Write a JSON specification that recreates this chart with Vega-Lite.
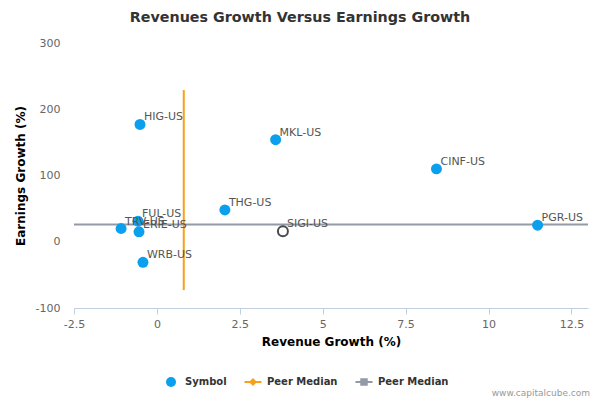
{
  "$schema": "https://vega.github.io/schema/vega-lite/v6.json",
  "autosize": {"type": "none"},
  "width": 514,
  "height": 265,
  "padding": {"left": 74, "top": 43, "right": 12, "bottom": 92},
  "background": "white",
  "title": {
    "text": "Revenues Growth Versus Earnings Growth",
    "fontSize": 14.3,
    "font": "DejaVu Sans",
    "fontWeight": "bold",
    "color": "#333333",
    "anchor": "middle",
    "dx": -31,
    "offset": 12
  },
  "config": {
    "view": {"stroke": null},
    "font": "DejaVu Sans"
  },
  "datasets": {
    "peers": [
      {"symbol": "HIG-US", "rev": -0.51, "earn": 177, "series": "Symbol"},
      {"symbol": "MKL-US", "rev": 3.58, "earn": 154, "series": "Symbol"},
      {"symbol": "CINF-US", "rev": 8.43, "earn": 110, "series": "Symbol"},
      {"symbol": "THG-US", "rev": 2.05, "earn": 48, "series": "Symbol"},
      {"symbol": "PGR-US", "rev": 11.48, "earn": 25, "series": "Symbol"},
      {"symbol": "FUL-US", "rev": -0.57, "earn": 31, "series": "Symbol"},
      {"symbol": "TRV-US", "rev": -1.08, "earn": 20, "series": "Symbol"},
      {"symbol": "ERIE-US", "rev": -0.54, "earn": 15, "series": "Symbol"},
      {"symbol": "WRB-US", "rev": -0.42, "earn": -31, "series": "Symbol"}
    ],
    "self": [
      {"symbol": "SIGI-US", "rev": 3.8, "earn": 16}
    ],
    "revMedian": [
      {"rev": 0.81, "earnLow": -73, "earnHigh": 229}
    ],
    "earnMedian": [
      {"earn": 26, "revLow": -2.5, "revHigh": 13}
    ],
    "credit": [
      {"text": "www.capitalcube.com", "rev": 13, "earn": -100}
    ]
  },
  "layer": [
    {
      "data": {"name": "earnMedian"},
      "mark": {"type": "rule", "color": "#9499a6", "strokeWidth": 2},
      "encoding": {
        "y": {"field": "earn", "type": "quantitative"},
        "x": {"field": "revLow", "type": "quantitative"},
        "x2": {"field": "revHigh"}
      }
    },
    {
      "data": {"name": "revMedian"},
      "mark": {"type": "rule", "color": "#f7a11a", "strokeWidth": 2},
      "encoding": {
        "x": {"field": "rev", "type": "quantitative"},
        "y": {"field": "earnLow", "type": "quantitative"},
        "y2": {"field": "earnHigh"}
      }
    },
    {
      "data": {"name": "peers"},
      "mark": {"type": "point", "filled": true, "opacity": 1, "size": 120},
      "encoding": {
        "x": {
          "field": "rev",
          "type": "quantitative",
          "scale": {"domain": [-2.5, 13], "nice": false, "zero": false},
          "axis": {
            "title": "Revenue Growth (%)",
            "values": [-2.5, 0, 2.5, 5, 7.5, 10, 12.5],
            "labelExpr": "toString(datum.value)",
            "grid": false,
            "domainColor": "#c0d0e0",
            "tickColor": "#c0d0e0",
            "tickSize": 6,
            "labelColor": "#666666",
            "labelFontSize": 11,
            "labelPadding": 4,
            "labelFlush": false,
            "titleFontSize": 12,
            "titleFontWeight": "bold",
            "titleColor": "#000000",
            "titlePadding": 7
          }
        },
        "y": {
          "field": "earn",
          "type": "quantitative",
          "scale": {"domain": [-100, 300], "nice": false, "zero": false},
          "axis": {
            "title": "Earnings Growth (%)",
            "values": [-100, 0, 100, 200, 300],
            "labelExpr": "toString(datum.value)",
            "grid": false,
            "domain": false,
            "ticks": false,
            "labelColor": "#666666",
            "labelFontSize": 11,
            "labelPadding": 14,
            "titleFontSize": 12,
            "titleFontWeight": "bold",
            "titleColor": "#000000",
            "titlePadding": 8
          }
        },
        "color": {
          "field": "series",
          "type": "nominal",
          "scale": {
            "domain": ["Symbol", "Peer Median", "Peer Median "],
            "range": ["#0ba0ee", "#f7a11a", "#9499a6"]
          },
          "legend": {
            "title": null,
            "orient": "none",
            "direction": "horizontal",
            "legendX": 91,
            "legendY": 333,
            "symbolSize": 100,
            "symbolOpacity": 1,
            "labelFontSize": 10,
            "labelFontWeight": "bold",
            "labelColor": "#333333",
            "labelOffset": 8,
            "columnPadding": 17
          }
        },
        "shape": {
          "field": "series",
          "type": "nominal",
          "scale": {
            "domain": ["Symbol", "Peer Median", "Peer Median "],
            "range": [
              "circle",
              "M-1.7,-0.2H1.7V0.2H-1.7Z M0,-0.8L0.8,0L0,0.8L-0.8,0Z",
              "M-1.7,-0.2H1.7V0.2H-1.7Z M-0.75,-0.75H0.75V0.75H-0.75Z"
            ]
          },
          "legend": null
        }
      }
    },
    {
      "data": {"name": "self"},
      "mark": {"type": "point", "filled": false, "color": "#000000", "strokeWidth": 2, "size": 100, "shape": "circle"},
      "encoding": {
        "x": {"field": "rev", "type": "quantitative"},
        "y": {"field": "earn", "type": "quantitative"}
      }
    },
    {
      "data": {"name": "peers"},
      "mark": {"type": "text", "align": "left", "baseline": "alphabetic", "dx": 4, "dy": -4, "fontSize": 11, "color": "#555555"},
      "encoding": {
        "x": {"field": "rev", "type": "quantitative"},
        "y": {"field": "earn", "type": "quantitative"},
        "text": {"field": "symbol"}
      }
    },
    {
      "data": {"name": "self"},
      "mark": {"type": "text", "align": "left", "baseline": "alphabetic", "dx": 4, "dy": -4, "fontSize": 11, "color": "#555555"},
      "encoding": {
        "x": {"field": "rev", "type": "quantitative"},
        "y": {"field": "earn", "type": "quantitative"},
        "text": {"field": "symbol"}
      }
    },
    {
      "data": {"name": "credit"},
      "mark": {"type": "text", "align": "right", "baseline": "alphabetic", "dx": 2, "dy": 88, "fontSize": 9, "color": "#999999"},
      "encoding": {
        "x": {"field": "rev", "type": "quantitative"},
        "y": {"field": "earn", "type": "quantitative"},
        "text": {"field": "text"}
      }
    }
  ]
}
